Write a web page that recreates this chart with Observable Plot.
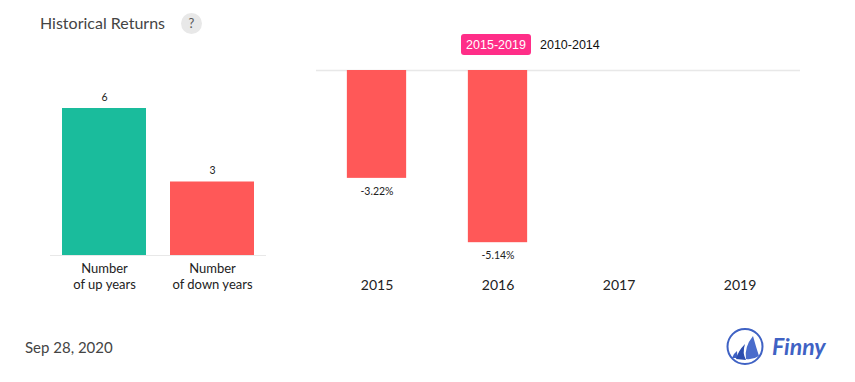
<!DOCTYPE html>
<html><head><meta charset="utf-8">
<script src="https://cdn.jsdelivr.net/npm/d3@7"></script>
<script src="https://cdn.jsdelivr.net/npm/@observablehq/plot@0.6"></script>
<style>
html,body{margin:0;padding:0;background:#fff;overflow:hidden}
#root{position:relative;width:855px;height:382px;font-family:Lato,sans-serif}
#root>svg.p{position:absolute;left:0;top:0;background:transparent}
.abs{position:absolute;white-space:nowrap}
</style></head><body><div id="root"></div>
<script>
const countCategories = ["Number\nof up years", "Number\nof down years"];
const countValues = [6, 3];
const countColors = ["#1abc9c", "#ff5858"];
const years = ["2015", "2016", "2017", "2019"];
const returnYears = ["2015", "2016"];
const returnValues = [-3.22, -5.14];
const returnLabels = ["-3.22%", "-5.14%"];
const titleText = "Historical Returns";
const dateText = "Sep 28, 2020";
const rangeLabels = ["2015-2019", "2010-2014"];

const root = document.getElementById("root");
const W = 855, H = 382;
const base = {width: W, height: H, marginTop: 0, marginBottom: 0,
  style: {background: "transparent", fontFamily: "Lato, sans-serif", overflow: "visible"}};

const countRows = countCategories.map((c, i) => ({c, v: countValues[i], col: countColors[i]}));
const left = Plot.plot({...base, marginLeft: 50, marginRight: 589,
  x: {domain: countCategories, round: false, paddingInner: 24 / 108, paddingOuter: 12 / 108, axis: null},
  y: {domain: [0, 6], range: [255, 108], axis: null},
  color: {type: "identity"},
  marks: [
    Plot.barY(countRows, {x: "c", y: "v", fill: "col"}),
    Plot.ruleY([0], {stroke: "#e8e8e8", strokeWidth: 1}),
    Plot.text(countRows, {x: "c", y: "v", text: d => String(d.v), dy: -11, fontSize: 10.5, fill: "#222"}),
    Plot.axisX({anchor: "bottom", y: 0, tickSize: 0, tickPadding: 0, dy: 5, fontSize: 13, lineHeight: 1.3, lineWidth: 40, fill: "#222", label: null, textOverflow: null})
  ]});
left.classList.add("p");
root.append(left);

const returnRows = returnYears.map((y, i) => ({y, v: returnValues[i], t: returnLabels[i]}));
const right = Plot.plot({...base, marginLeft: 316, marginRight: 55,
  x: {domain: years, round: false, paddingInner: 0.51, paddingOuter: 0.255, axis: null},
  y: {domain: [0, -6], range: [70, 271], axis: null},
  marks: [
    Plot.ruleY([0], {stroke: "#e8e8e8", strokeWidth: 1.5}),
    Plot.barY(returnRows, {x: "y", y: "v", fill: "#ff5858"}),
    Plot.text(returnRows, {x: "y", y: "v", text: "t", dy: 13, fontSize: 10.5, fill: "#222"}),
    Plot.axisX({anchor: "bottom", y: -6, tickSize: 0, tickPadding: 0, dy: 9, fontSize: 14, fill: "#222", label: null})
  ]});
right.classList.add("p");
root.append(right);

function label(text, css) {
  const d = document.createElement("div");
  d.className = "abs";
  d.textContent = text;
  d.style.cssText = css;
  root.append(d);
  return d;
}
label(titleText, "left:40px;top:13px;font-size:16px;line-height:20px;color:#444");
label("?", "left:181px;top:13px;width:21px;height:21px;line-height:21px;border-radius:50%;background:#e8e8e8;text-align:center;font-size:13px;color:#555");
label(rangeLabels[0], "left:461px;top:35px;width:70px;height:21px;margin-top:-1px;border-radius:3px;background:#ff2e88;text-align:center;font:12.5px/22px 'Liberation Sans',sans-serif;color:#fff");
label(rangeLabels[1], "left:540px;top:34px;font:12.5px/22px 'Liberation Sans',sans-serif;color:#111");
label(dateText, "left:25px;top:337px;font-size:15px;line-height:20px;color:#444");

// brand logo
const logo = document.createElementNS("http://www.w3.org/2000/svg", "svg");
logo.setAttribute("width", 140); logo.setAttribute("height", 50);
logo.style.cssText = "position:absolute;left:715px;top:322px";
logo.innerHTML = `
<circle cx="30" cy="24.5" r="17.5" fill="none" stroke="#3f62c4" stroke-width="2"/>
<path d="M17 36 Q19 31 22 29 Q22 33 23 36Z" fill="#3f62c4"/>
<path d="M21 37 Q23 29 30 22 Q27 31 31 38Z" fill="#2b4cae"/>
<path d="M31 37 Q29 25 38 14 Q41 25 44 34 Q38 38 31 37Z" fill="#4a6ccb"/>
<text x="57" y="33" font-family="Lato,sans-serif" font-style="italic" font-weight="700" font-size="23" fill="#3f62c4">Finny</text>`;
root.append(logo);
</script></body></html>
